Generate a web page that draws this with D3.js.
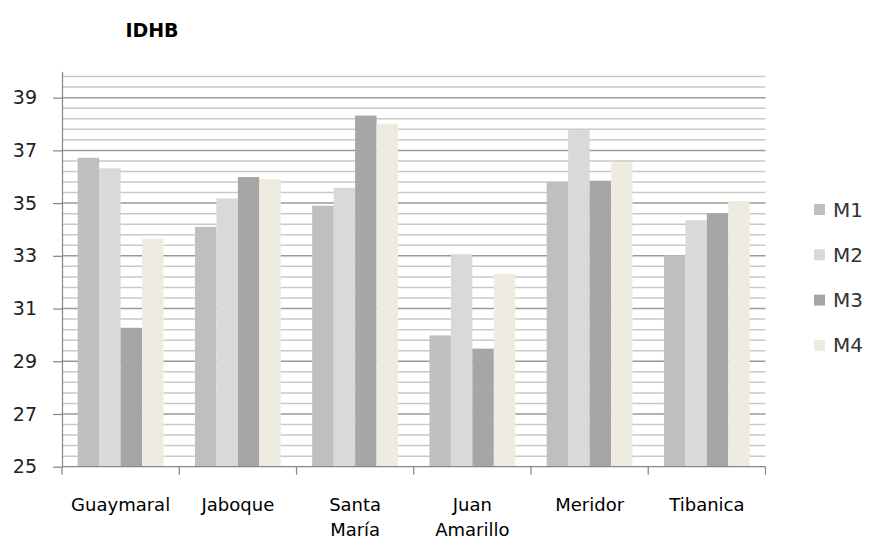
<!DOCTYPE html>
<html>
<head>
<meta charset="utf-8">
<script src="https://cdn.jsdelivr.net/npm/d3@7"></script>
<style>
  html, body { margin: 0; padding: 0; background: #fff; }
  svg { display: block; font-family: "DejaVu Sans", sans-serif; }
</style>
</head>
<body>
<svg id="chart" width="869" height="539"></svg>
<script>
// IDHB by locality, four measurements (M1–M4)
const categories = ["Guaymaral", "Jaboque", "Santa María", "Juan Amarillo", "Meridor", "Tibanica"];
const seriesNames = ["M1", "M2", "M3", "M4"];
const m1 = [36.72, 34.10, 34.90, 29.98, 35.80, 33.02];
const m2 = [36.32, 35.18, 35.58, 33.06, 37.77, 34.35];
const m3 = [30.27, 35.99, 38.32, 29.48, 35.85, 34.61];
const m4 = [33.65, 35.91, 38.01, 32.32, 36.55, 35.08];
const yTicks = [25, 27, 29, 31, 33, 35, 37, 39];
const seriesColors = ["#bfbfbf", "#d9d9d9", "#a6a6a6", "#eeece1"];

const seriesValues = [m1, m2, m3, m4];
const rows = categories.map((c, i) => ({
  category: c,
  values: seriesNames.map((s, j) => ({ series: s, value: seriesValues[j][i] }))
}));

const svg = d3.select("#chart");
const plot = { left: 62, right: 765.5, top: 71.3, bottom: 466.7 };

const y = d3.scaleLinear().domain([25, 40]).range([plot.bottom, plot.top]);
const x0 = d3.scaleBand().domain(categories).range([plot.left, plot.right]).padding(0);
const gap = x0.bandwidth() * 0.134;
const x1 = d3.scaleBand().domain(seriesNames).range([gap, x0.bandwidth() - gap]).padding(0);
const color = d3.scaleOrdinal().domain(seriesNames).range(seriesColors);

// Title
svg.append("text")
  .attr("x", 152).attr("y", 37)
  .attr("text-anchor", "middle")
  .attr("font-weight", "bold")
  .attr("font-size", 19)
  .attr("fill", "#000")
  .text("IDHB");

// Minor gridlines every 0.4, major every 2
const minor = d3.range(1, 38).filter(i => i % 5 !== 0).map(i => 25 + 0.4 * i);
svg.append("g").selectAll("line").data(minor).join("line")
  .attr("x1", plot.left).attr("x2", plot.right)
  .attr("y1", d => y(d)).attr("y2", d => y(d))
  .attr("stroke", "#c9c9c9").attr("stroke-width", 1.5);
svg.append("g").selectAll("line").data(yTicks.filter(t => t > 25)).join("line")
  .attr("x1", plot.left).attr("x2", plot.right)
  .attr("y1", d => y(d)).attr("y2", d => y(d))
  .attr("stroke", "#9a9a9a").attr("stroke-width", 1.5);

// Bars
svg.append("g").selectAll("g").data(rows).join("g")
  .attr("transform", d => `translate(${x0(d.category)},0)`)
  .selectAll("rect").data(d => d.values).join("rect")
  .attr("x", d => x1(d.series))
  .attr("width", x1.bandwidth())
  .attr("y", d => y(d.value))
  .attr("height", d => y(25) - y(d.value))
  .attr("fill", d => color(d.series));

// Y axis
const yAxis = svg.append("g")
  .attr("transform", `translate(${plot.left},0)`)
  .call(d3.axisLeft(y).tickValues(yTicks).tickSize(9).tickPadding(16).tickSizeOuter(0).tickFormat(d3.format("d")));
yAxis.select(".domain").attr("stroke", "#868686").attr("stroke-width", 1.2);
yAxis.selectAll(".tick line").attr("stroke", "#868686").attr("stroke-width", 1.2);
yAxis.selectAll(".tick text")
  .attr("font-size", 19).attr("fill", "#222")
  .attr("font-family", "DejaVu Sans, sans-serif");

// X axis with ticks at category boundaries
const xAxis = svg.append("g").attr("transform", `translate(0,${plot.bottom})`);
xAxis.append("line")
  .attr("x1", plot.left).attr("x2", plot.right)
  .attr("stroke", "#868686").attr("stroke-width", 1.2);
const boundaries = categories.map(c => x0(c)).concat([x0(categories[categories.length - 1]) + x0.bandwidth()]);
xAxis.selectAll("line.tk").data(boundaries).join("line")
  .attr("class", "tk")
  .attr("x1", d => d).attr("x2", d => d)
  .attr("y1", 0).attr("y2", 8)
  .attr("stroke", "#868686").attr("stroke-width", 1.2);

const xLabels = xAxis.selectAll("text").data(categories).join("text")
  .attr("text-anchor", "middle")
  .attr("font-size", 18)
  .attr("fill", "#000")
  .attr("transform", d => `translate(${x0(d) + x0.bandwidth() / 2},0)`);
xLabels.selectAll("tspan").data(d => d.split(" ")).join("tspan")
  .attr("x", 0)
  .attr("y", (d, i) => 44 + i * 25)
  .text(d => d);

// Legend
const legend = svg.append("g").selectAll("g").data(seriesNames).join("g")
  .attr("transform", (d, i) => `translate(814,${209 + i * 45.3})`);
legend.append("rect")
  .attr("x", 0).attr("y", -5).attr("width", 11).attr("height", 11)
  .attr("fill", d => color(d));
legend.append("text")
  .attr("x", 19).attr("y", 7.5)
  .attr("font-size", 20)
  .attr("fill", "#333")
  .text(d => d);
</script>
</body>
</html>
